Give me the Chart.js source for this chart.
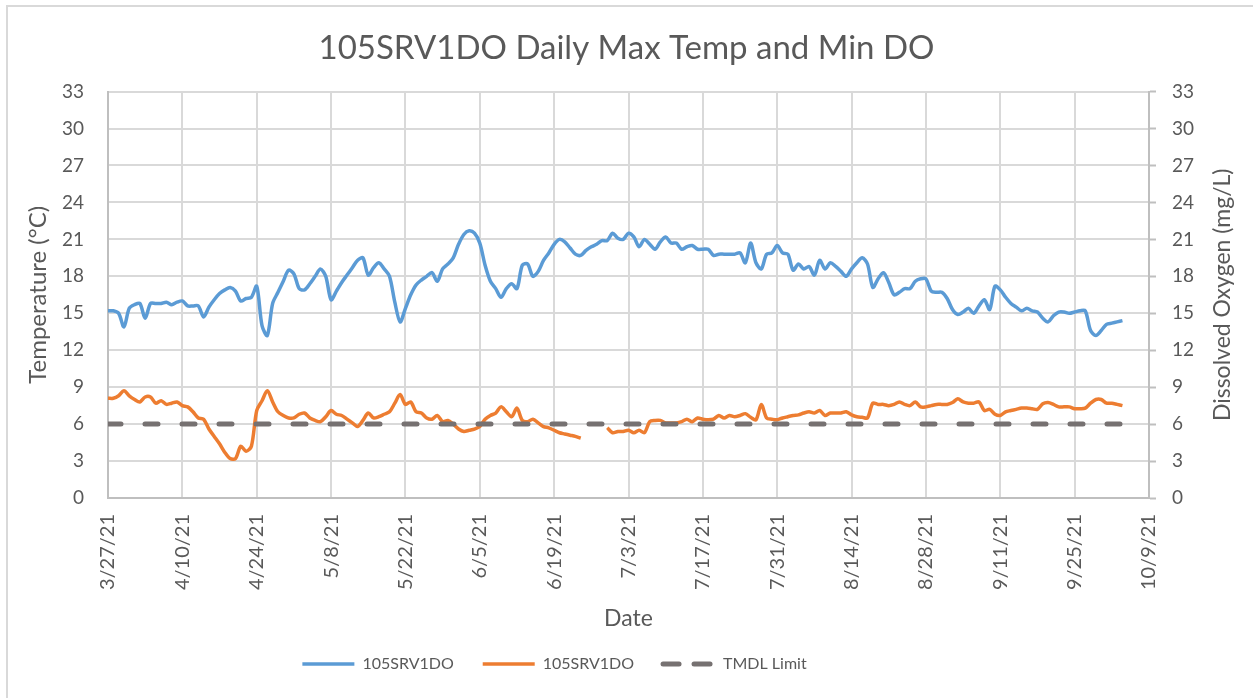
<!DOCTYPE html>
<html>
<head>
<meta charset="utf-8">
<title>105SRV1DO Daily Max Temp and Min DO</title>
<script src="https://cdn.jsdelivr.net/npm/chart.js@4.4.1/dist/chart.umd.min.js"></script>
<style>
    html, body { margin: 0; padding: 0; background: #ffffff; }
    #wrap { position: relative; width: 1253px; height: 698px; overflow: hidden; }
    #frame { position: absolute; left: 6px; top: 5px; width: 1300px; height: 750px;
             border-left: 2px solid #d9d9d9; border-top: 2px solid #d9d9d9; pointer-events: none; }
    canvas { position: absolute; left: 0; top: 0; }
</style>
</head>
<body>
<div id="wrap">
    <canvas id="chart" width="1253" height="698"></canvas>
    <div id="frame"></div>
</div>
<script>
// x = days since 3/27/21
const xTickLabels = ['3/27/21', '4/10/21', '4/24/21', '5/8/21', '5/22/21', '6/5/21', '6/19/21', '7/3/21',
    '7/17/21', '7/31/21', '8/14/21', '8/28/21', '9/11/21', '9/25/21', '10/9/21'];
const yTicks = [0, 3, 6, 9, 12, 15, 18, 21, 24, 27, 30, 33];

// daily max temperature (°C), one value per day from 3/27/21
const tempMax = [
    15.2, 15.2, 15.0, 13.9, 15.4, 15.7, 15.8, 14.6, 15.8, 15.8,
    15.8, 15.9, 15.7, 15.9, 16.0, 15.6, 15.6, 15.6, 14.7, 15.5,
    16.1, 16.6, 16.9, 17.1, 16.8, 16.0, 16.2, 16.3, 17.2, 14.0,
    13.2, 15.8, 16.7, 17.6, 18.5, 18.2, 17.0, 16.9, 17.4, 18.0,
    18.6, 18.0, 16.1, 16.8, 17.5, 18.1, 18.7, 19.3, 19.5, 18.1,
    18.7, 19.1, 18.6, 18.0, 15.9, 14.3, 15.4, 16.5, 17.3, 17.7,
    18.0, 18.3, 17.6, 18.6, 19.0, 19.5, 20.6, 21.4, 21.7, 21.5,
    20.7, 18.9, 17.6, 17.0, 16.3, 17.0, 17.4, 17.0, 18.9, 19.0,
    18.0, 18.4, 19.3, 19.9, 20.6, 21.0, 20.8, 20.3, 19.8, 19.7,
    20.1, 20.4, 20.6, 20.9, 20.9, 21.5, 21.1, 21.0, 21.5, 21.2,
    20.4, 21.0, 20.6, 20.2, 20.8, 21.2, 20.7, 20.7, 20.2, 20.4,
    20.5, 20.2, 20.2, 20.2, 19.7, 19.8, 19.8, 19.8, 19.8, 19.9,
    19.1, 20.7, 19.1, 18.6, 19.8, 19.9, 20.5, 19.9, 19.8, 18.5,
    19.0, 18.6, 18.8, 18.1, 19.3, 18.6, 19.1, 18.8, 18.4, 18.0,
    18.6, 19.1, 19.5, 19.0, 17.1, 17.8, 18.3, 17.5, 16.5, 16.7,
    17.0, 17.0, 17.6, 17.8, 17.8, 16.8, 16.7, 16.7, 16.2, 15.3,
    14.9, 15.1, 15.4, 15.0, 15.6, 16.1, 15.3, 17.2, 16.9, 16.3,
    15.8, 15.5, 15.2, 15.4, 15.2, 15.1, 14.6, 14.3, 14.8, 15.1,
    15.1, 15.0, 15.1, 15.2, 15.2, 13.6, 13.2, 13.6, 14.1, 14.2,
    14.3, 14.4
];

// daily min dissolved oxygen (mg/L), null = no data
const doMin = [
    8.1, 8.1, 8.3, 8.7, 8.3, 8.0, 7.8, 8.2, 8.2, 7.7,
    7.9, 7.6, 7.7, 7.8, 7.5, 7.4, 7.0, 6.5, 6.4, 5.6,
    5.0, 4.4, 3.7, 3.2, 3.2, 4.2, 3.8, 4.2, 7.1, 7.9,
    8.7, 7.8, 7.0, 6.7, 6.5, 6.5, 6.8, 6.9, 6.5, 6.3,
    6.2, 6.6, 7.1, 6.8, 6.7, 6.4, 6.1, 5.8, 6.3, 6.9,
    6.5, 6.6, 6.8, 7.0, 7.7, 8.4, 7.6, 7.8, 7.0, 6.9,
    6.5, 6.4, 6.7, 6.2, 6.3, 6.0, 5.6, 5.4, 5.5, 5.6,
    5.8, 6.4, 6.7, 6.9, 7.4, 7.0, 6.6, 7.3, 6.3, 6.2,
    6.4, 6.1, 5.8, 5.7, 5.5, 5.3, 5.2, 5.1, 5.0, 4.85,
    null, null, null, null, 5.7, 5.3, 5.4, 5.4, 5.5, 5.3,
    5.5, 5.3, 6.2, 6.3, 6.3, 6.1, 6.1, 6.1, 6.2, 6.4,
    6.2, 6.5, 6.4, 6.35, 6.4, 6.7, 6.5, 6.7, 6.6, 6.7,
    6.85, 6.55, 6.35, 7.6, 6.5, 6.4, 6.35, 6.5, 6.6, 6.7,
    6.75, 6.9, 7.0, 6.9, 7.1, 6.7, 6.9, 6.9, 6.9, 7.0,
    6.75, 6.6, 6.55, 6.5, 7.7, 7.6, 7.6, 7.5, 7.6, 7.8,
    7.6, 7.5, 7.8, 7.4, 7.4, 7.5, 7.6, 7.6, 7.6, 7.75,
    8.05, 7.8, 7.7, 7.7, 7.8, 7.1, 7.2, 6.8, 6.7, 7.0,
    7.1, 7.2, 7.3, 7.3, 7.25, 7.2, 7.65, 7.75, 7.6, 7.4,
    7.4, 7.4, 7.25, 7.25, 7.3, 7.7, 8.0, 8.0, 7.7, 7.7,
    7.6, 7.5
];

// TMDL limit line (mg/L)
const tmdlDays = [0, 194];
const tmdlValues = [6, 6];

const rightAxisTitle = 'Dissolved Oxygen (mg/L)';
const textColor = '#595959';
const fontName = 'Lato, "Open Sans", sans-serif';

const toPoints = (values) => values.map((v, i) => ({ x: i, y: v }));

// right axis title reads bottom-to-top like the left one
const rightTitlePlugin = {
    id: 'rightTitle',
    afterDraw(chart) {
        const { ctx, chartArea } = chart;
        const x = chart.scales.y2.right - 30;
        ctx.save();
        ctx.translate(x, (chartArea.top + chartArea.bottom) / 2);
        ctx.rotate(-Math.PI / 2);
        ctx.font = '23px ' + fontName;
        ctx.fillStyle = textColor;
        ctx.textAlign = 'center';
        ctx.textBaseline = 'middle';
        ctx.fillText(rightAxisTitle, 0, 0);
        ctx.restore();
    }
};

// legend in the original sits left of centre
const legendShiftPlugin = {
    id: 'legendShift',
    afterLayout(chart) {
        chart.legend.left -= 72;
        chart.legend.right -= 72;
    }
};

new Chart(document.getElementById('chart'), {
    type: 'line',
    data: {
        datasets: [
            {
                label: '105SRV1DO',
                data: toPoints(tempMax),
                yAxisID: 'y',
                borderColor: '#5B9BD5',
                backgroundColor: '#5B9BD5',
                borderWidth: 3.5,
                pointRadius: 0,
                tension: 0.3,
                order: 2
            },
            {
                label: '105SRV1DO',
                data: toPoints(doMin),
                yAxisID: 'y2',
                borderColor: '#ED7D31',
                backgroundColor: '#ED7D31',
                borderWidth: 3.5,
                pointRadius: 0,
                tension: 0.3,
                spanGaps: false,
                order: 3
            },
            {
                label: 'TMDL Limit',
                data: tmdlDays.map((d, i) => ({ x: d, y: tmdlValues[i] })),
                yAxisID: 'y2',
                borderColor: '#767171',
                backgroundColor: '#767171',
                borderWidth: 5,
                borderDash: [13, 24],
                borderCapStyle: 'round',
                pointRadius: 0,
                order: 1
            }
        ]
    },
    options: {
        responsive: false,
        devicePixelRatio: 1,
        animation: false,
        layout: { padding: { left: 0, right: 0, top: 0, bottom: 16 } },
        plugins: {
            title: {
                display: true,
                text: '105SRV1DO Daily Max Temp and Min DO',
                color: textColor,
                font: { family: fontName, size: 33, weight: 'normal', lineHeight: 1.2 },
                padding: { top: 29, bottom: 23 }
            },
            legend: {
                position: 'bottom',
                labels: {
                    color: textColor,
                    font: { family: fontName, size: 16 },
                    usePointStyle: true,
                    pointStyle: 'line',
                    pointStyleWidth: 52,
                    padding: 29,
                    sort: (a, b) => a.datasetIndex - b.datasetIndex,
                    generateLabels(chart) {
                        const items = Chart.defaults.plugins.legend.labels.generateLabels(chart);
                        items.forEach(item => {
                            const ds = chart.data.datasets[item.datasetIndex];
                            item.lineWidth = ds.borderWidth;
                            if (ds.borderDash) {
                                // two short dashes in the legend key
                                item.lineDash = [16, 15];
                                item.lineCap = 'round';
                            }
                        });
                        return items;
                    }
                }
            },
            tooltip: { enabled: false }
        },
        scales: {
            x: {
                type: 'linear',
                min: 0,
                max: 196,
                afterBuildTicks(scale) {
                    scale.ticks = xTickLabels.map((t, i) => ({ value: i * 14 }));
                },
                ticks: {
                    color: textColor,
                    font: { family: fontName, size: 20 },
                    minRotation: 90,
                    maxRotation: 90,
                    padding: 16,
                    callback: (v) => xTickLabels[v / 14]
                },
                grid: { color: '#d9d9d9', lineWidth: 2, drawTicks: false },
                border: { color: '#bfbfbf', width: 2 },
                title: {
                    display: true,
                    text: 'Date',
                    color: textColor,
                    font: { family: fontName, size: 23, lineHeight: 0.5 },
                    padding: { top: 0, bottom: 3 }
                },
                afterFit(scale) {
                    scale.height = scale.chart.height - 16 - scale.chart.legend.height - 498;
                }
            },
            y: {
                position: 'left',
                min: 0,
                max: 33,
                afterBuildTicks(scale) {
                    scale.ticks = yTicks.map(v => ({ value: v }));
                },
                ticks: {
                    color: textColor,
                    font: { family: fontName, size: 19 },
                    padding: 24
                },
                grid: { color: '#d9d9d9', lineWidth: 2, drawTicks: false },
                border: { color: '#bfbfbf', width: 2 },
                title: {
                    display: true,
                    text: 'Temperature (°C)',
                    color: textColor,
                    font: { family: fontName, size: 24, lineHeight: 1.2 },
                    padding: { top: 24, bottom: 0 }
                },
                afterFit(scale) {
                    scale.width = 108;
                }
            },
            y2: {
                position: 'right',
                min: 0,
                max: 33,
                afterBuildTicks(scale) {
                    scale.ticks = yTicks.map(v => ({ value: v }));
                },
                ticks: {
                    color: textColor,
                    font: { family: fontName, size: 19 },
                    padding: 16
                },
                grid: { drawOnChartArea: false, drawTicks: true, tickLength: 7, tickColor: '#bfbfbf', tickWidth: 2 },
                border: { color: '#bfbfbf', width: 2 },
                afterFit(scale) {
                    scale.width = 104;
                }
            }
        }
    },
    plugins: [rightTitlePlugin, legendShiftPlugin]
});
</script>
</body>
</html>
